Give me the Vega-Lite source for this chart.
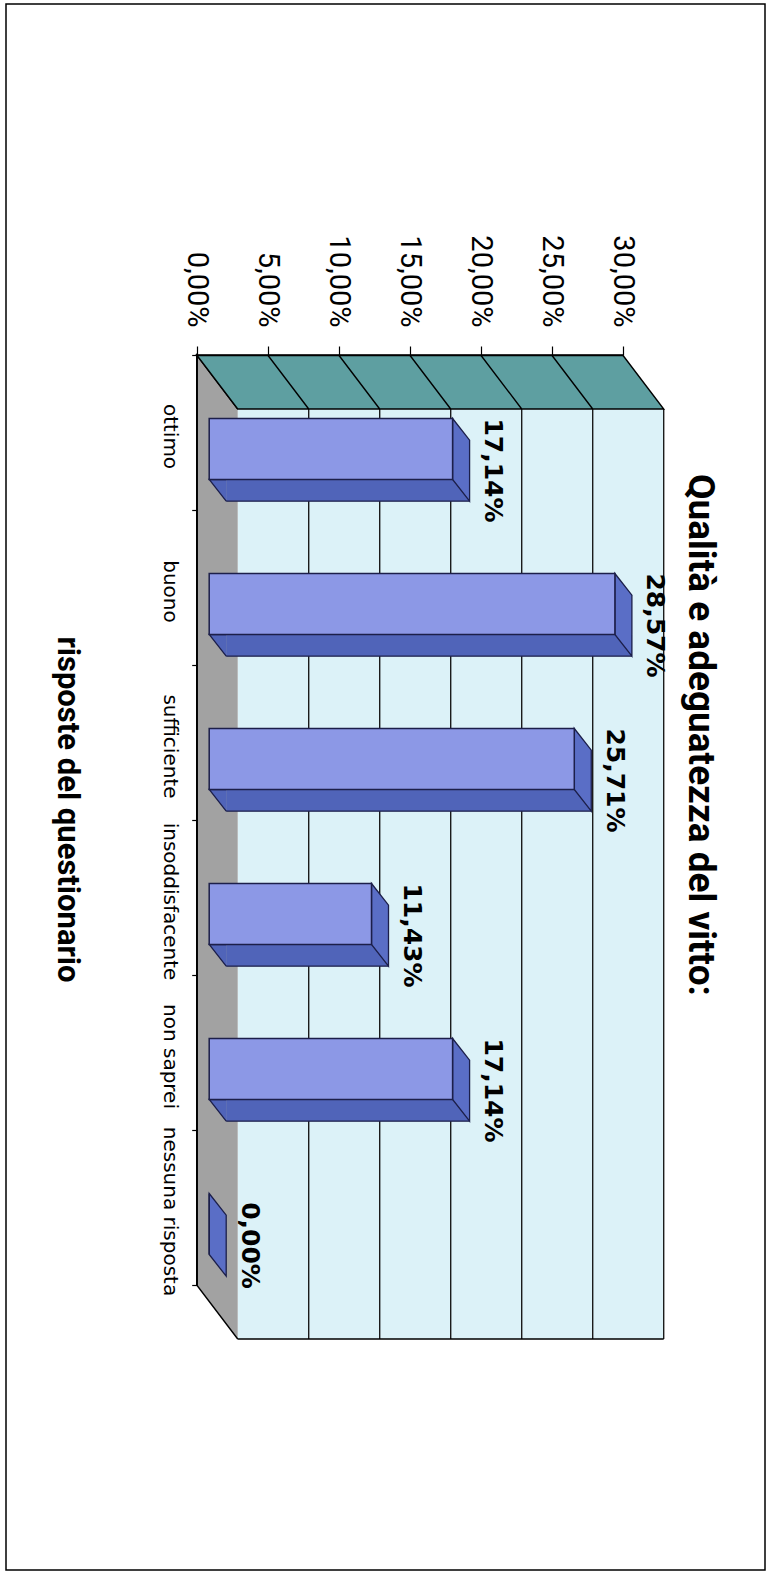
{
  "$schema": "https://vega.github.io/schema/vega-lite/v6.json",
  "width": 759,
  "height": 1566,
  "autosize": {"type": "none"},
  "padding": {"left": 6, "top": 4, "right": 5, "bottom": 3},
  "background": "#ffffff",
  "title": {
    "text": "Qualità e adeguatezza del vitto:",
    "orient": "right",
    "anchor": "middle",
    "frame": "group",
    "offset": -113,
    "angle": 90,
    "baseline": "alphabetic",
    "dx": -52,
    "font": "Roboto",
    "fontSize": 37,
    "fontWeight": "bold",
    "color": "#000000"
  },
  "config": {
    "locale": {"number": {"decimal": ",", "thousands": ".", "grouping": [3], "currency": ["", " €"]}},
    "view": {"stroke": "#000000", "strokeWidth": 1.5, "fill": "#ffffff"}
  },
  "data": {
    "values": [
      {"risposta": "ottimo", "quota": 0.1714},
      {"risposta": "buono", "quota": 0.2857},
      {"risposta": "sufficiente", "quota": 0.2571},
      {"risposta": "insoddisfacente", "quota": 0.1143},
      {"risposta": "non saprei", "quota": 0.1714},
      {"risposta": "nessuna risposta", "quota": 0}
    ]
  },
  "layer": [
    {
      "mark": {"type": "rect", "fill": "#dcf2f8", "xOffset": 41, "x2Offset": 41, "yOffset": 54, "y2Offset": 54},
      "encoding": {
        "x": {
          "datum": 0, "type": "quantitative",
          "scale": {"domain": [0, 0.3], "range": [190.7, 616.7], "nice": false, "zero": false},
          "axis": {
            "orient": "top", "offset": -351,
            "values": [0, 0.05, 0.1, 0.15, 0.2, 0.25, 0.3],
            "format": ".2%", "title": null, "grid": false,
            "domain": true, "domainColor": "#000000", "domainWidth": 1.5,
            "ticks": true, "tickColor": "#000000", "tickSize": 9, "tickWidth": 1.2,
            "labelAngle": 90, "labelAlign": "right", "labelBaseline": "middle", "labelPadding": 19,
            "labelFont": "Roboto", "labelFontSize": 29, "labelColor": "#000000",
            "labelOverlap": false, "labelFlush": false, "labelBound": false, "zindex": 1
          }
        },
        "x2": {"datum": 0.3},
        "y": {
          "field": "risposta", "type": "nominal",
          "scale": {
            "domain": ["ottimo", "buono", "sufficiente", "insoddisfacente", "non saprei", "nessuna risposta"],
            "range": [351, 1281], "paddingInner": 0, "paddingOuter": 0
          },
          "axis": {
            "orient": "left", "offset": -190.7,
            "title": "risposte del questionario",
            "titleFont": "Roboto", "titleFontSize": 31, "titleFontWeight": "bold", "titleColor": "#000000",
            "titleAngle": 90, "titleAlign": "center", "titleBaseline": "alphabetic",
            "titleX": -139.7, "titleY": 805,
            "domain": true, "domainColor": "#000000", "domainWidth": 1.5,
            "ticks": true, "tickBand": "extent", "tickColor": "#000000", "tickSize": 5, "tickWidth": 1.2,
            "labelAngle": 90, "labelAlign": "center", "labelBaseline": "alphabetic",
            "labelPadding": 28.7, "labelOffset": 3.5,
            "labelFont": "DejaVu Sans", "labelFontSize": 20, "labelColor": "#000000",
            "labelOverlap": false, "labelBound": false, "grid": false, "zindex": 1
          }
        }
      }
    },
    {
      "mark": {"type": "tick", "color": "#1b1b1b", "size": 155, "thickness": 1.4, "xOffset": 41, "yOffset": 54, "opacity": 1},
      "encoding": {"x": {"datum": 0.05, "type": "quantitative"}, "y": {"field": "risposta", "type": "nominal"}}
    },
    {
      "mark": {"type": "tick", "color": "#1b1b1b", "size": 155, "thickness": 1.4, "xOffset": 41, "yOffset": 54, "opacity": 1},
      "encoding": {"x": {"datum": 0.1, "type": "quantitative"}, "y": {"field": "risposta", "type": "nominal"}}
    },
    {
      "mark": {"type": "tick", "color": "#1b1b1b", "size": 155, "thickness": 1.4, "xOffset": 41, "yOffset": 54, "opacity": 1},
      "encoding": {"x": {"datum": 0.15, "type": "quantitative"}, "y": {"field": "risposta", "type": "nominal"}}
    },
    {
      "mark": {"type": "tick", "color": "#1b1b1b", "size": 155, "thickness": 1.4, "xOffset": 41, "yOffset": 54, "opacity": 1},
      "encoding": {"x": {"datum": 0.2, "type": "quantitative"}, "y": {"field": "risposta", "type": "nominal"}}
    },
    {
      "mark": {"type": "tick", "color": "#1b1b1b", "size": 155, "thickness": 1.4, "xOffset": 41, "yOffset": 54, "opacity": 1},
      "encoding": {"x": {"datum": 0.25, "type": "quantitative"}, "y": {"field": "risposta", "type": "nominal"}}
    },
    {
      "mark": {"type": "tick", "color": "#1b1b1b", "size": 155, "thickness": 1.4, "xOffset": 41, "yOffset": 54, "opacity": 1},
      "encoding": {"x": {"datum": 0.3, "type": "quantitative"}, "y": {"field": "risposta", "type": "nominal"}}
    },
    {
      "data": {"values": [{}]},
      "mark": {
        "type": "point", "filled": true, "size": 4, "opacity": 1, "fillOpacity": 1, "strokeOpacity": 1,
        "shape": "M41,-23.5 L0,-77.5 L0,852.5 L41,906.5 M41,906.5 L467,906.5",
        "fill": "#a2a2a2", "stroke": "#000000", "strokeWidth": 1.4
      },
      "encoding": {"x": {"datum": 0, "type": "quantitative"}, "y": {"datum": "ottimo", "type": "nominal"}}
    },
    {
      "data": {"values": [{}]},
      "mark": {
        "type": "point", "filled": true, "size": 4, "opacity": 1, "fillOpacity": 1, "strokeOpacity": 1,
        "shape": "M0,-77.5 L426,-77.5 L467,-23.5 L41,-23.5 Z M71,-77.5 L112,-23.5 M142,-77.5 L183,-23.5 M213,-77.5 L254,-23.5 M284,-77.5 L325,-23.5 M355,-77.5 L396,-23.5",
        "fill": "#5e9fa1", "stroke": "#000000", "strokeWidth": 1.4
      },
      "encoding": {"x": {"datum": 0, "type": "quantitative"}, "y": {"datum": "ottimo", "type": "nominal"}}
    },
    {
      "transform": [{"filter": "datum.quota > 0"}],
      "mark": {"type": "bar", "fill": "#5064b9", "xOffset": 29.5, "x2Offset": 29.5, "height": 21.7, "yOffset": 57.85},
      "encoding": {"x": {"field": "quota", "type": "quantitative"}, "x2": {"datum": 0}, "y": {"field": "risposta", "type": "nominal"}}
    },
    {
      "transform": [{"filter": "datum.quota > 0"}],
      "mark": {
        "type": "point", "filled": true, "size": 4, "opacity": 1, "fillOpacity": 1, "strokeOpacity": 1,
        "shape": "M29.5,47 L12.5,47 L29.5,68.7",
        "fill": "#5064b9", "stroke": "#1c1f4a", "strokeWidth": 1.3
      },
      "encoding": {"x": {"datum": 0, "type": "quantitative"}, "y": {"field": "risposta", "type": "nominal"}}
    },
    {
      "transform": [{"filter": "datum.quota > 0"}],
      "mark": {"type": "rule", "color": "#1c1f4a", "strokeWidth": 1.3, "xOffset": 29.5, "x2Offset": 29.5, "yOffset": 68.7},
      "encoding": {"x": {"field": "quota", "type": "quantitative"}, "x2": {"datum": 0}, "y": {"field": "risposta", "type": "nominal"}}
    },
    {
      "mark": {
        "type": "point", "filled": true, "size": 4, "opacity": 1, "fillOpacity": 1, "strokeOpacity": 1,
        "shape": "M12.5,47 L12.5,-14 L29.5,7.7 L29.5,68.7 Z",
        "fill": "#5a6ec6", "stroke": "#1c1f4a", "strokeWidth": 1.3
      },
      "encoding": {"x": {"field": "quota", "type": "quantitative"}, "y": {"field": "risposta", "type": "nominal"}}
    },
    {
      "mark": {"type": "bar", "fill": "#8c98e6", "stroke": "#1c1f4a", "strokeWidth": 1.5, "xOffset": 12.5, "x2Offset": 12.5, "height": 61, "yOffset": 16.5},
      "encoding": {"x": {"field": "quota", "type": "quantitative"}, "x2": {"datum": 0}, "y": {"field": "risposta", "type": "nominal"}}
    },
    {
      "mark": {"type": "text", "angle": 90, "align": "center", "baseline": "alphabetic", "font": "DejaVu Sans", "fontWeight": "bold", "fontSize": 25, "color": "#000000", "xOffset": 45, "yOffset": 38},
      "encoding": {
        "x": {"field": "quota", "type": "quantitative"},
        "y": {"field": "risposta", "type": "nominal"},
        "text": {"field": "quota", "type": "quantitative", "format": ".2%"}
      }
    }
  ]
}
